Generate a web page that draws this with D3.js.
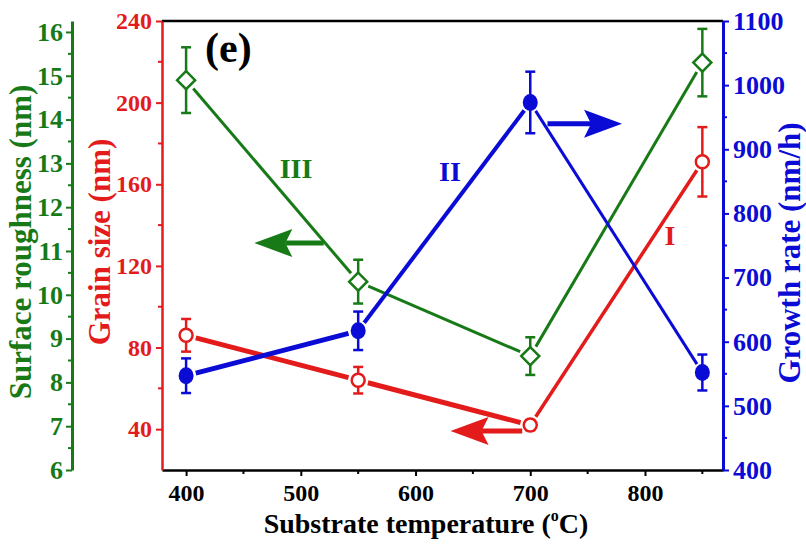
<!DOCTYPE html>
<html>
<head>
<meta charset="utf-8">
<script src="https://cdn.jsdelivr.net/npm/d3@7"></script>
<style>
  html, body { margin: 0; padding: 0; background: #fff; }
  svg { display: block; }
  text { font-family: "Liberation Serif", "Times New Roman", serif; font-weight: bold; }
</style>
</head>
<body>
<svg id="chart" width="806" height="548"></svg>
<script>
// Substrate temperatures (°C)
const temps = [400, 550, 700, 850];
// Series I: grain size (nm) with error
const grainSize = [86, 64, 42, 171];
const grainErr = [8, 6.5, 2.5, 17];
// Series II: growth rate (nm/h) with error
const growthRate = [547, 617, 973, 552];
const growthErr = [27, 30, 48, 28];
// Series III: surface roughness (nm) with error
const roughness = [14.9, 10.3, 8.6, 15.3];
const roughErr = [0.75, 0.5, 0.43, 0.77];

// Tick values
const xTicks = [400, 500, 600, 700, 800];
const grainTicks = [40, 80, 120, 160, 200, 240];
const roughTicks = [6, 7, 8, 9, 10, 11, 12, 13, 14, 15, 16];
const growthTicks = [400, 500, 600, 700, 800, 900, 1000, 1100];

const GREEN = "#177a17", RED = "#e31b1b", BLUE = "#0b0bd6", BLACK = "#000";

const svg = d3.select("#chart");
const plotL = 162, plotR = 723, plotT = 21, plotB = 470, greenX = 72;

const x = d3.scaleLinear().domain([379, 868]).range([plotL, plotR]);
const yGrain = d3.scaleLinear().domain([20, 240]).range([plotB, plotT]);
const yRough = d3.scaleLinear().domain([6, 16.25]).range([plotB, plotT]);
const yGrowth = d3.scaleLinear().domain([400, 1100]).range([plotB, plotT]);
const fmt = d3.format("d");

// frame: top line
svg.append("line").attr("x1", plotL).attr("x2", plotR).attr("y1", plotT).attr("y2", plotT)
  .attr("stroke", BLACK).attr("stroke-width", 2.5);

function styleAxis(g, color, width, fontSize) {
  g.select(".domain").attr("stroke", color).attr("stroke-width", width);
  g.selectAll(".tick line").attr("stroke", color).attr("stroke-width", 2);
  g.selectAll(".tick text").attr("fill", color).style("font-size", fontSize + "px")
    .style("font-family", '"Liberation Serif", serif').style("font-weight", "bold");
}

// minor ticks helper
function minorTicks(parent, scale, values, orient, pos, len, color) {
  parent.selectAll(null).data(values).enter().append("line")
    .attr("stroke", color).attr("stroke-width", 2)
    .each(function(d) {
      const s = d3.select(this);
      if (orient === "bottom") {
        s.attr("x1", scale(d)).attr("x2", scale(d)).attr("y1", pos).attr("y2", pos + len);
      } else if (orient === "left") {
        s.attr("y1", scale(d)).attr("y2", scale(d)).attr("x1", pos).attr("x2", pos - len);
      } else {
        s.attr("y1", scale(d)).attr("y2", scale(d)).attr("x1", pos).attr("x2", pos + len);
      }
    });
}

// x axis
const gx = svg.append("g").attr("transform", `translate(0,${plotB})`)
  .call(d3.axisBottom(x).tickValues(xTicks).tickFormat(fmt).tickSize(6).tickPadding(8).tickSizeOuter(0));
styleAxis(gx, BLACK, 2.5, 24);
minorTicks(svg, x, [450, 550, 650, 750, 850], "bottom", plotB, 4, BLACK);

// grain size axis (red)
const gGrain = svg.append("g").attr("transform", `translate(${plotL},0)`)
  .call(d3.axisLeft(yGrain).tickValues(grainTicks).tickFormat(fmt).tickSize(6).tickPadding(4).tickSizeOuter(0));
styleAxis(gGrain, RED, 2.5, 24);
minorTicks(svg, yGrain, [60, 100, 140, 180, 220], "left", plotL, 4, RED);

// roughness axis (green)
const gRough = svg.append("g").attr("transform", `translate(${greenX},0)`)
  .call(d3.axisLeft(yRough).tickValues(roughTicks).tickFormat(fmt).tickSize(6).tickPadding(3).tickSizeOuter(0));
styleAxis(gRough, GREEN, 3, 26);
minorTicks(svg, yRough, d3.range(6.5, 16.5, 1), "left", greenX, 4, GREEN);

// growth rate axis (blue)
const gGrowth = svg.append("g").attr("transform", `translate(${plotR},0)`)
  .call(d3.axisRight(yGrowth).tickValues(growthTicks).tickFormat(fmt).tickSize(6).tickPadding(4).tickSizeOuter(0));
styleAxis(gGrowth, BLUE, 3, 26);
minorTicks(svg, yGrowth, d3.range(450, 1100, 100), "right", plotR, 4, BLUE);

// axis titles
svg.append("text").attr("x", 426).attr("y", 533).attr("text-anchor", "middle")
  .attr("fill", BLACK).style("font-size", "28px")
  .call(t => {
    t.append("tspan").text("Substrate temperature (");
    t.append("tspan").text("o").style("font-size", "16px").attr("dy", -12);
    t.append("tspan").text("C)").attr("dy", 12);
  });

svg.append("text").attr("transform", "translate(31,242) rotate(-90)").attr("text-anchor", "middle")
  .attr("fill", GREEN).style("font-size", "31px").text("Surface roughness (nm)");
svg.append("text").attr("transform", "translate(110,242) rotate(-90)").attr("text-anchor", "middle")
  .attr("fill", RED).style("font-size", "31px").text("Grain size (nm)");
svg.append("text").attr("transform", "translate(800,253) rotate(-90)").attr("text-anchor", "middle")
  .attr("fill", BLUE).style("font-size", "31px").text("Growth rate (nm/h)");

// connecting lines with gaps around the markers; one width per segment
function drawSeries(values, yScale, color, widths, gap) {
  const pts = temps.map((t, i) => [x(t), yScale(values[i])]);
  for (let i = 0; i < pts.length - 1; i++) {
    const [x1, y1] = pts[i], [x2, y2] = pts[i + 1];
    const len = Math.hypot(x2 - x1, y2 - y1);
    const ux = (x2 - x1) / len, uy = (y2 - y1) / len;
    svg.append("line")
      .attr("x1", x1 + ux * gap).attr("y1", y1 + uy * gap)
      .attr("x2", x2 - ux * gap).attr("y2", y2 - uy * gap)
      .attr("stroke", color).attr("stroke-width", widths[i]);
  }
}

function drawErrors(values, errs, yScale, color) {
  const g = svg.append("g").attr("stroke", color).attr("stroke-width", 2.5);
  temps.forEach((t, i) => {
    const cx = x(t), y0 = yScale(values[i] - errs[i]), y1 = yScale(values[i] + errs[i]);
    g.append("line").attr("x1", cx).attr("x2", cx).attr("y1", y0).attr("y2", y1);
    g.append("line").attr("x1", cx - 5).attr("x2", cx + 5).attr("y1", y0).attr("y2", y0);
    g.append("line").attr("x1", cx - 5).attr("x2", cx + 5).attr("y1", y1).attr("y2", y1);
  });
}

drawSeries(roughness, yRough, GREEN, [3, 3, 3], 11);
drawSeries(grainSize, yGrain, RED, [5, 5, 3.5], 10);
drawSeries(growthRate, yGrowth, BLUE, [5, 4, 3], 10);

drawErrors(roughness, roughErr, yRough, GREEN);
drawErrors(grainSize, grainErr, yGrain, RED);
drawErrors(growthRate, growthErr, yGrowth, BLUE);

// markers
svg.append("g").selectAll("path").data(temps).enter().append("path")
  .attr("d", (t, i) => {
    const cx = x(t), cy = yRough(roughness[i]), r = 9;
    return `M${cx},${cy - r}L${cx + r},${cy}L${cx},${cy + r}L${cx - r},${cy}Z`;
  })
  .attr("fill", "#fff").attr("stroke", GREEN).attr("stroke-width", 2.5);

svg.append("g").selectAll("circle").data(temps).enter().append("circle")
  .attr("cx", t => x(t)).attr("cy", (t, i) => yGrain(grainSize[i])).attr("r", 6.5)
  .attr("fill", "#fff").attr("stroke", RED).attr("stroke-width", 2.5);

svg.append("g").selectAll("ellipse").data(temps).enter().append("ellipse")
  .attr("cx", t => x(t)).attr("cy", (t, i) => yGrowth(growthRate[i])).attr("rx", 7.5).attr("ry", 8.5)
  .attr("fill", BLUE);

// arrows pointing to each series' axis
function arrow(xFrom, xTip, yPix, color) {
  const dir = Math.sign(xTip - xFrom);
  const back = xTip - dir * 38, notch = xTip - dir * 31, half = 14;
  svg.append("line").attr("x1", xFrom).attr("x2", notch).attr("y1", yPix).attr("y2", yPix)
    .attr("stroke", color).attr("stroke-width", 5);
  svg.append("path")
    .attr("d", `M${xTip},${yPix}L${back},${yPix - half}L${notch},${yPix}L${back},${yPix + half}Z`)
    .attr("fill", color);
}
arrow(x(520), x(459.5), yRough(11.18), GREEN);
arrow(x(715), x(780), yGrowth(940), BLUE);
arrow(x(693), x(630.5), yGrain(39.1), RED);

// series labels
svg.append("text").attr("x", 296).attr("y", 178).attr("text-anchor", "middle")
  .attr("fill", GREEN).style("font-size", "28px").text("III");
svg.append("text").attr("x", 450).attr("y", 181).attr("text-anchor", "middle")
  .attr("fill", BLUE).style("font-size", "28px").text("II");
svg.append("text").attr("x", 670).attr("y", 245).attr("text-anchor", "middle")
  .attr("fill", RED).style("font-size", "28px").text("I");

// panel label
svg.append("text").attr("x", 205).attr("y", 62).attr("fill", BLACK)
  .style("font-size", "42px").text("(e)");
</script>
</body>
</html>
